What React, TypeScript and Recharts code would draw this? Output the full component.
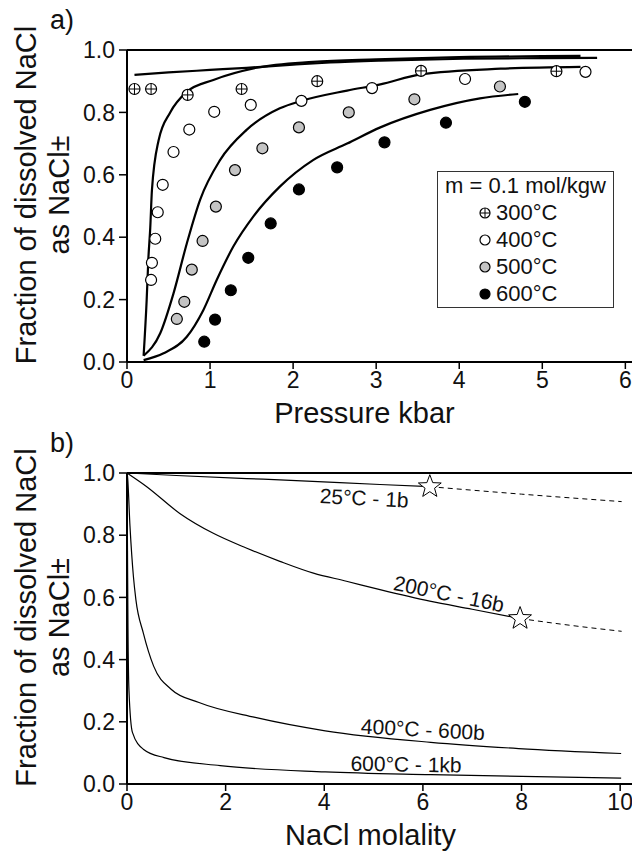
import React from 'react'
import {
  ComposedChart,
  Line,
  Scatter,
  XAxis,
  YAxis,
  ReferenceLine,
  ReferenceDot,
} from 'recharts'

const FONT = '"Liberation Sans", Arial, Helvetica, sans-serif'

// ---- panel a) measured points (pressure kbar / fraction as NaCl±)
const p300 = [0.09, 0.29, 0.73, 1.38, 2.29, 3.54, 5.17]
const f300 = [0.875, 0.875, 0.856, 0.875, 0.9, 0.933, 0.932]
const p400 = [0.29, 0.3, 0.34, 0.37, 0.43, 0.56, 0.75, 1.05, 1.49, 2.1, 2.95, 4.07, 5.52]
const f400 = [0.263, 0.318, 0.395, 0.48, 0.568, 0.673, 0.745, 0.802, 0.824, 0.837, 0.878, 0.907, 0.93]
const p500 = [0.6, 0.69, 0.78, 0.91, 1.07, 1.3, 1.63, 2.07, 2.67, 3.46, 4.49]
const f500 = [0.138, 0.193, 0.296, 0.388, 0.498, 0.615, 0.685, 0.752, 0.8, 0.842, 0.883]
const p600 = [0.93, 1.06, 1.25, 1.46, 1.73, 2.07, 2.53, 3.1, 3.84, 4.79]
const f600 = [0.065, 0.136, 0.23, 0.334, 0.444, 0.553, 0.624, 0.704, 0.767, 0.834]

// ---- panel a) model curves
const c300x = [0.09, 0.5, 1.0, 1.44, 2.0, 2.45, 3.05, 4.05, 5.0, 5.66]
const c300y = [0.92, 0.928, 0.936, 0.943, 0.953, 0.96, 0.966, 0.972, 0.974, 0.975]
const c400x = [0.2, 0.237, 0.257, 0.28, 0.3, 0.38, 0.52, 0.72, 1.04, 1.56, 2.24, 3.0, 4.0, 5.46]
const c400y = [0.02, 0.2, 0.33, 0.43, 0.55, 0.71, 0.8, 0.866, 0.904, 0.943, 0.962, 0.97, 0.977, 0.981]
const c500x = [0.2, 0.4, 0.56, 0.72, 0.88, 1.12, 1.44, 1.84, 2.1, 2.65, 3.05, 3.54, 4.5, 5.46]
const c500y = [0.02, 0.092, 0.22, 0.38, 0.52, 0.647, 0.744, 0.813, 0.837, 0.87, 0.89, 0.922, 0.94, 0.946]
const c600x = [0.2, 0.44, 0.72, 0.92, 1.08, 1.28, 1.52, 1.84, 2.24, 2.65, 3.05, 3.65, 4.25, 4.71]
const c600y = [0.006, 0.028, 0.081, 0.167, 0.263, 0.37, 0.466, 0.562, 0.647, 0.7, 0.752, 0.808, 0.845, 0.859]

// ---- panel b) curves (NaCl molality / fraction)
const m25x = [0, 1, 2.43, 3.1, 5.13, 6.14]
const m25y = [1.0, 0.992, 0.982, 0.978, 0.963, 0.956]
const m25dashX = [6.14, 8, 10.03]
const m25dashY = [0.956, 0.932, 0.908]
const m200x = [0, 0.4, 1.07, 1.75, 2.43, 3.1, 3.78, 4.45, 5.13, 6.14, 7.0, 7.97]
const m200y = [1.0, 0.956, 0.87, 0.806, 0.758, 0.716, 0.678, 0.652, 0.625, 0.588, 0.562, 0.532]
const m200dashX = [7.97, 9, 10.03]
const m200dashY = [0.532, 0.51, 0.491]
const m400x = [0, 0.01, 0.06, 0.13, 0.18, 0.33, 0.54, 0.9, 1.46, 2.6, 4.02, 6.16, 7.94, 10.02]
const m400y = [1.0, 0.99, 0.83, 0.667, 0.593, 0.486, 0.379, 0.304, 0.262, 0.214, 0.171, 0.134, 0.114, 0.098]
const m600x = [0, 0.01, 0.02, 0.04, 0.11, 0.33, 0.75, 1.89, 4.02, 6.16, 10.02]
const m600y = [1.0, 0.75, 0.5, 0.3, 0.166, 0.112, 0.085, 0.059, 0.039, 0.03, 0.019]
const starX = [6.14, 7.97]
const starY = [0.956, 0.532]

const curveNames = ['25°C - 1b', '200°C - 16b', '400°C - 600b', '600°C - 1kb']
const nameX = [4.81, 6.53, 6.0, 5.66]
const nameY = [0.92, 0.612, 0.176, 0.064]
const nameAngle = [3, 11.5, 3, 1]

const legendTemps = ['300°C', '400°C', '500°C', '600°C']

const zip = (xs: number[], ys: number[]) => xs.map((x, i) => ({ x, y: ys[i] }))

const yTicks = [0, 0.2, 0.4, 0.6, 0.8, 1.0]
const tickStyle = { fontSize: 23, fill: '#111', fontFamily: FONT }

function Marker({ cx, cy, kind, r = 5.5 }: { cx: number; cy: number; kind: number; r?: number }) {
  const fill = kind === 3 ? '#000' : kind === 2 ? '#c4c4c4' : '#fff'
  return (
    <g>
      <circle cx={cx} cy={cy} r={r} fill={fill} stroke="#000" strokeWidth={1.2} />
      {kind === 0 && (
        <path
          d={`M${cx - r},${cy}H${cx + r}M${cx},${cy - r}V${cy + r}`}
          stroke="#000"
          strokeWidth={1}
        />
      )}
    </g>
  )
}

const markerShape = (kind: number) => (props: any) => <Marker cx={props.cx} cy={props.cy} kind={kind} />

function StarShape(props: any) {
  const { cx, cy } = props
  const pts: string[] = []
  for (let i = 0; i < 10; i++) {
    const rad = i % 2 === 0 ? 12 : 5
    const a = (-90 + i * 36) * (Math.PI / 180)
    pts.push(`${cx + rad * Math.cos(a)},${cy + rad * Math.sin(a)}`)
  }
  return <polygon points={pts.join(' ')} fill="#fff" stroke="#000" strokeWidth={1} />
}

const yTitle = (letter: string) => (props: any) => {
  const vb = props.viewBox || { x: 0, y: 50, width: 127, height: 312 }
  const cy = vb.y + vb.height / 2 - 11
  return (
    <g fontFamily={FONT} fill="#111">
      <text x={50} y={vb.y - 21} fontSize={27}>
        {letter}
      </text>
      <text transform={`translate(36, ${cy}) rotate(-90)`} textAnchor="middle" fontSize={29}>
        Fraction of dissolved NaCl
      </text>
      <text transform={`translate(69, ${cy}) rotate(-90)`} textAnchor="middle" fontSize={29}>
        as NaCl±
      </text>
    </g>
  )
}

const xTitle = (title: string, shift: number) => (props: any) => {
  const vb = props.viewBox || { x: 127, y: 362, width: 505, height: 68 }
  return (
    <text
      x={vb.x + vb.width / 2 + shift}
      y={vb.y + 61}
      textAnchor="middle"
      fontSize={29}
      fontFamily={FONT}
      fill="#111"
    >
      {title}
    </text>
  )
}

const curveLabel = (text: string, angle: number) => (props: any) => {
  const vb = props.viewBox
  const x = vb.x + (vb.width || 0) / 2
  const y = vb.y + (vb.height || 0) / 2
  return (
    <text
      transform={`translate(${x}, ${y}) rotate(${angle})`}
      textAnchor="middle"
      dominantBaseline="central"
      fontSize={21}
      fontFamily={FONT}
      fill="#111"
    >
      {text}
    </text>
  )
}

const axisLine = { stroke: '#000', strokeWidth: 2 }
const tickLine = { stroke: '#000', strokeWidth: 1.5 }

function PanelA() {
  const curves = [zip(c300x, c300y), zip(c400x, c400y), zip(c500x, c500y), zip(c600x, c600y)]
  const points = [zip(p300, f300), zip(p400, f400), zip(p500, f500), zip(p600, f600)]
  return (
    <ComposedChart width={632} height={430} margin={{ top: 50, right: 0, bottom: 0, left: 0 }}>
      <XAxis
        type="number"
        dataKey="x"
        domain={[0, 6.08]}
        ticks={[0, 1, 2, 3, 4, 5, 6]}
        tickSize={7}
        tickMargin={3}
        height={68}
        axisLine={axisLine}
        tickLine={tickLine}
        tick={tickStyle}
        label={{ content: xTitle('Pressure kbar', -15) }}
      />
      <YAxis
        type="number"
        dataKey="y"
        domain={[0, 1]}
        ticks={yTicks}
        width={127}
        tickSize={8}
        tickMargin={4}
        axisLine={axisLine}
        tickLine={tickLine}
        tick={tickStyle}
        tickFormatter={(v: number) => v.toFixed(1)}
        label={{ content: yTitle('a)') }}
      />
      <ReferenceLine y={1} stroke="#000" strokeWidth={2} />
      {curves.map((d, i) => (
        <Line
          key={`c${i}`}
          data={d}
          dataKey="y"
          type="monotone"
          stroke="#000"
          strokeWidth={2.2}
          dot={false}
          isAnimationActive={false}
        />
      ))}
      {points.map((d, i) => (
        <Scatter
          key={`p${i}`}
          data={d}
          dataKey="y"
          shape={markerShape(i)}
          isAnimationActive={false}
        />
      ))}
    </ComposedChart>
  )
}

function PanelB() {
  const solid = [zip(m25x, m25y), zip(m200x, m200y), zip(m400x, m400y), zip(m600x, m600y)]
  const dashed = [zip(m25dashX, m25dashY), zip(m200dashX, m200dashY)]
  return (
    <ComposedChart width={632} height={438} margin={{ top: 53, right: 0, bottom: 0, left: 0 }}>
      <XAxis
        type="number"
        dataKey="x"
        domain={[0, 10.24]}
        ticks={[0, 2, 4, 6, 8, 10]}
        tickSize={7}
        tickMargin={3}
        height={74}
        axisLine={axisLine}
        tickLine={tickLine}
        tick={tickStyle}
        label={{ content: xTitle('NaCl molality', -9) }}
      />
      <YAxis
        type="number"
        dataKey="y"
        domain={[0, 1]}
        ticks={yTicks}
        width={127}
        tickSize={8}
        tickMargin={4}
        axisLine={axisLine}
        tickLine={tickLine}
        tick={tickStyle}
        tickFormatter={(v: number) => v.toFixed(1)}
        label={{ content: yTitle('b)') }}
      />
      <ReferenceLine y={1} stroke="#000" strokeWidth={2} />
      {solid.map((d, i) => (
        <Line
          key={`s${i}`}
          data={d}
          dataKey="y"
          type="monotone"
          stroke="#000"
          strokeWidth={1.2}
          dot={false}
          isAnimationActive={false}
        />
      ))}
      {dashed.map((d, i) => (
        <Line
          key={`d${i}`}
          data={d}
          dataKey="y"
          type="monotone"
          stroke="#000"
          strokeWidth={1}
          strokeDasharray="5 4"
          dot={false}
          isAnimationActive={false}
        />
      ))}
      <Scatter data={zip(starX, starY)} dataKey="y" shape={StarShape} isAnimationActive={false} />
      {curveNames.map((name, i) => (
        <ReferenceDot
          key={name}
          x={nameX[i]}
          y={nameY[i]}
          r={1}
          fill="none"
          stroke="none"
          label={curveLabel(name, nameAngle[i])}
        />
      ))}
    </ComposedChart>
  )
}

function LegendBox() {
  return (
    <div
      style={{
        position: 'absolute',
        left: 437,
        top: 171,
        width: 177,
        height: 137,
        boxSizing: 'border-box',
        border: '1px solid #333',
        background: '#fff',
        fontFamily: FONT,
        fontSize: 22,
        lineHeight: '27px',
        color: '#111',
      }}
    >
      <div style={{ textAlign: 'center' }}>m = 0.1 mol/kgw</div>
      {legendTemps.map((t, i) => (
        <div key={t} style={{ display: 'flex', alignItems: 'center', paddingLeft: 40 }}>
          <svg width={14} height={14} style={{ marginRight: 4 }}>
            <Marker cx={7} cy={7} kind={i} r={5} />
          </svg>
          <span>{t}</span>
        </div>
      ))}
    </div>
  )
}

export default function App() {
  return (
    <div style={{ position: 'absolute', left: 0, top: 0, width: 632, height: 858, background: '#fff' }}>
      <div style={{ position: 'absolute', left: 0, top: 0 }}>
        <PanelA />
      </div>
      <LegendBox />
      <div style={{ position: 'absolute', left: 0, top: 420 }}>
        <PanelB />
      </div>
    </div>
  )
}
